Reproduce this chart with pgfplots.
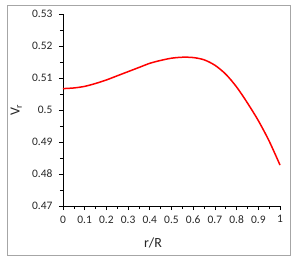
\documentclass[border=0pt]{standalone}
\usepackage{pgfplots}
\pgfplotsset{compat=1.18}
\usepackage{fontspec}
\setmainfont{Carlito}
\begin{document}
\begin{tikzpicture}[x=1bp,y=1bp]
\begin{axis}[
  scale only axis,
  width=217bp, height=192bp,
  xmin=0, xmax=1, ymin=0.47, ymax=0.53,
  axis x line*=bottom, axis y line*=left,
  axis line style={black, line width=0.8pt, -},
  xtick={0,0.1,...,1.0}, ytick={0.47,0.48,...,0.531},
  minor x tick num=1, minor y tick num=1,
  tick align=outside,
  major tick length=4bp, minor tick length=3bp,
  every tick/.style={black, line width=0.6pt},
  xticklabel style={font=\fontsize{11.5}{12}\selectfont, text=black!85, yshift=-2bp},
  yticklabel style={font=\fontsize{11.5}{12}\selectfont, text=black!85, xshift=-3bp},
  /pgf/number format/assume math mode=true,
  /pgf/number format/fixed, /pgf/number format/precision=2,
  xlabel={r/R}, ylabel={V\textsubscript{r}},
  every axis x label/.style={at={(rel axis cs:0.415,-0.19)}, anchor=center, font=\fontsize{14}{15}\selectfont, text=black!85},
  every axis y label/.style={at={(rel axis cs:-0.215,0.5)}, rotate=90, anchor=center, font=\fontsize{14}{15}\selectfont, text=black!85},
  clip=false,
]
\addplot[red, line width=1.5bp, smooth] coordinates {
(0,0.5067) (0.05,0.5069) (0.1,0.5074) (0.15,0.5083) (0.2,0.5094) (0.25,0.5107)
(0.3,0.5120) (0.35,0.5133) (0.4,0.5146) (0.45,0.5155) (0.5,0.5162) (0.55,0.5165)
(0.6,0.5164) (0.65,0.5157) (0.7,0.5140) (0.75,0.5112) (0.8,0.5072) (0.85,0.5022)
(0.9,0.4967) (0.95,0.4903) (1.0,0.4828)
};
\draw[black!35, line width=0.8bp] (rel axis cs:-0.258,-0.255) rectangle (rel axis cs:1.046,1.047);
\coordinate (bl) at (rel axis cs:-0.290,-0.302);
\coordinate (tr) at (rel axis cs:1.092,1.073);
\end{axis}
\pgfresetboundingbox
\useasboundingbox (bl) rectangle (tr);
\end{tikzpicture}
\end{document}
